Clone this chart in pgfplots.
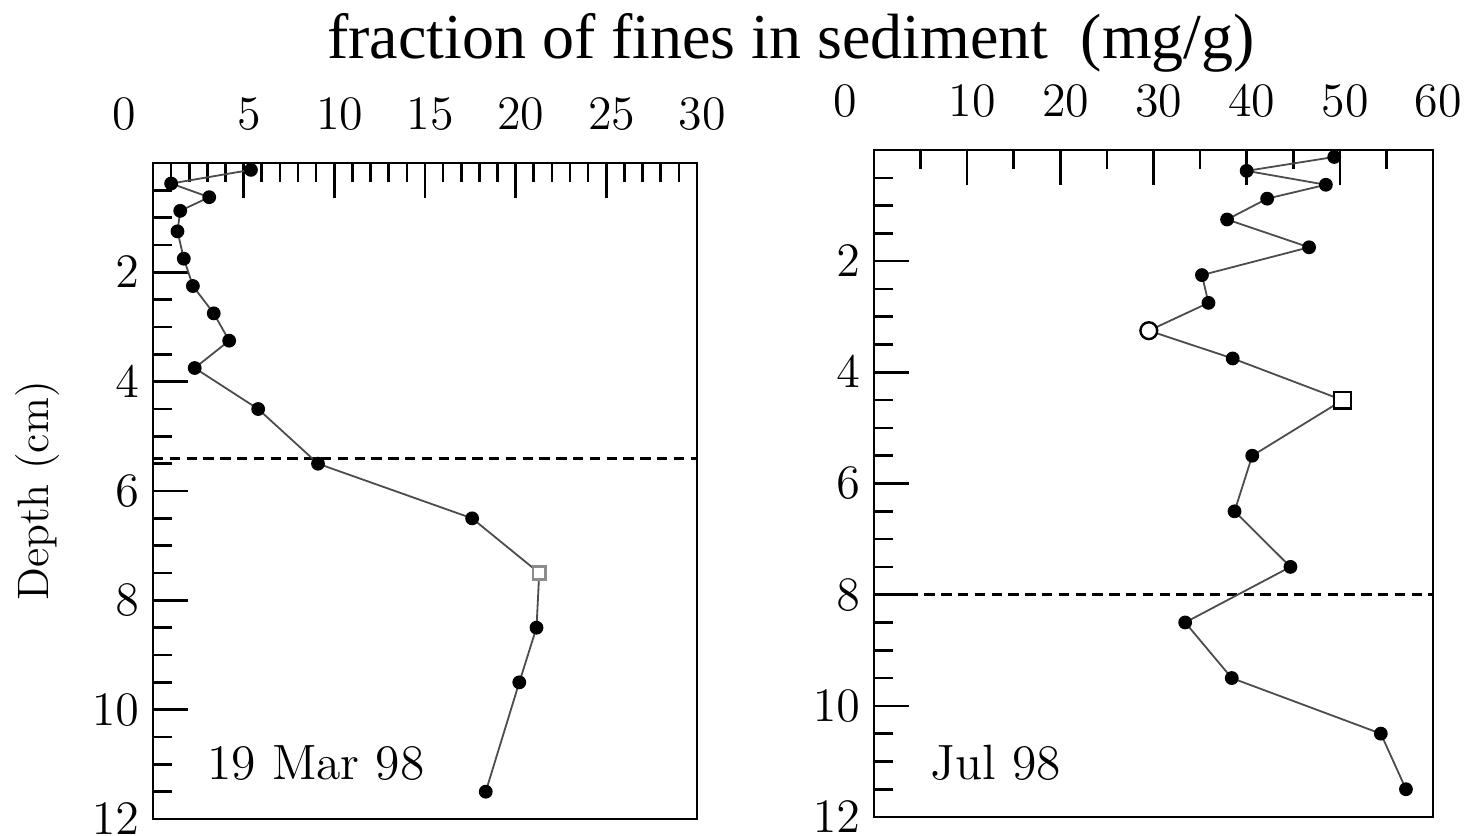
\documentclass[border=0pt]{standalone}
\usepackage{fontspec}
\usepackage{pgfplots}
\pgfplotsset{compat=1.18}
\newfontfamily\titlefont{Liberation Serif}

\pgfplotstableread{
x d
5.4 0.125
1.0 0.375
3.1 0.625
1.5 0.875
1.35 1.25
1.7 1.75
2.2 2.25
3.35 2.75
4.2 3.25
2.3 3.75
5.8 4.5
9.1 5.5
17.6 6.5
21.3 7.5
21.15 8.5
20.2 9.5
18.35 11.5
}\marchdata

\pgfplotstableread{
x d
49.4 0.125
40.0 0.375
48.5 0.625
42.2 0.875
37.9 1.25
46.7 1.75
35.2 2.25
35.9 2.75
29.5 3.25
38.5 3.75
50.3 4.5
40.6 5.5
38.7 6.5
44.7 7.5
33.4 8.5
38.4 9.5
54.4 10.5
57.1 11.5
}\juldata

\pgfplotsset{
  panel/.style={
    scale only axis,
    anchor=south west,
    y dir=reverse,
    ymin=0, ymax=12,
    ytick={2,4,6,8,10,12},
    minor ytick={0.5,1,...,11.5},
    tick align=inside,
    xtick pos=right, xticklabel pos=right,
    ytick pos=left, yticklabel pos=left,
    major tick length=8.75pt,
    minor tick length=4.75pt,
    axis line style={line width=0.65pt},
    every tick/.style={line width=0.65pt, black},
    tick label style={font=\fontsize{12}{14}\selectfont},
    xticklabel style={yshift=4.5pt, xshift=1.3pt},
    clip=false,
  },
  prof/.style={color=black!70, line width=0.45pt, mark=*, mark size=1.5pt,
    mark options={solid, fill=black, draw=black}},
}

\begin{document}
\begin{tikzpicture}
\useasboundingbox (0pt,0pt) rectangle (367.25pt,-209pt);

\begin{axis}[panel,
  at={(38.25pt,-204.75pt)},
  width=136pt, height=164pt,
  xmin=0, xmax=30,
  xtick={0,5,...,30},
  xticklabels={\kern-8.5pt0\kern8.5pt,5,10,15,20,25,30},
  minor x tick num=4,
]
\addplot[black, line width=0.7pt, dash pattern=on 2.6pt off 1.6pt] coordinates {(0,5.4) (30,5.4)};
\addplot[prof] table[x=x,y=d] {\marchdata};
\addplot[only marks, mark=square*, mark size=1.6pt, mark options={fill=white, draw=black!45, line width=0.6pt}] coordinates {(21.3,7.5)};
\node[anchor=base west, inner sep=0pt, font=\fontsize{12.4}{14}\selectfont] at (axis cs:2.95,11.28) {19 Mar 98};
\end{axis}

\begin{axis}[panel,
  at={(218.5pt,-204.25pt)},
  width=139.75pt, height=166.75pt,
  xmin=0, xmax=60,
  xtick={0,10,...,60},
  xticklabels={\kern-8.5pt0\kern8.5pt,10,20,30,40,50,60},
  minor x tick num=1,
]
\addplot[black, line width=0.7pt, dash pattern=on 2.6pt off 1.6pt] coordinates {(0,8) (60,8)};
\addplot[prof] table[x=x,y=d] {\juldata};
\addplot[only marks, mark=square*, mark size=2.1pt, mark options={fill=white, draw=black, line width=0.6pt}] coordinates {(50.3,4.5)};
\addplot[only marks, mark=*, mark size=2.1pt, mark options={fill=white, draw=black, line width=0.6pt}] coordinates {(29.5,3.25)};
\node[anchor=base west, inner sep=0pt, font=\fontsize{12.4}{14}\selectfont] at (axis cs:6.0,11.33) {Jul 98};
\end{axis}

\node[anchor=base, font=\titlefont\fontsize{16}{19}\selectfont] at (197.75pt,-14.5pt) {fraction of fines in sediment~ (mg/g)};
\node[rotate=90, font=\fontsize{11}{13}\selectfont] at (9.5pt,-122.75pt) {Depth (cm)};
\end{tikzpicture}
\end{document}
